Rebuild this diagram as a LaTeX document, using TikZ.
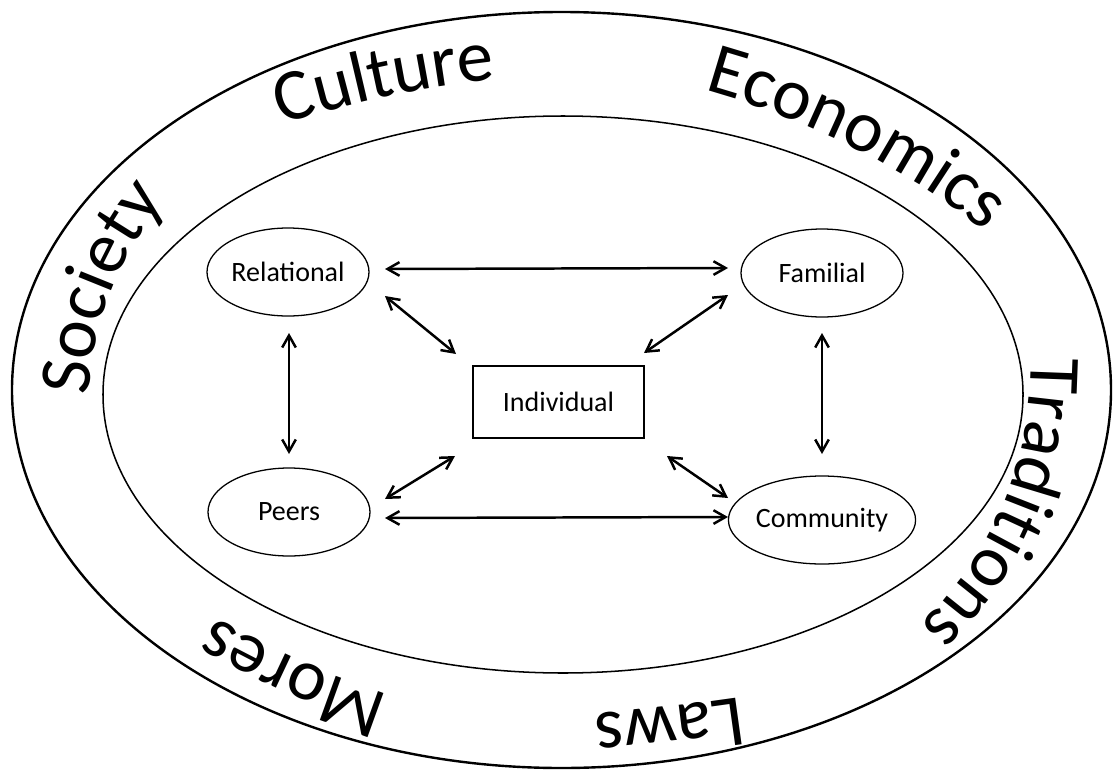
\documentclass[tikz,border=0pt]{standalone}
\usepackage{fontspec}
\setmainfont{Carlito}
\usetikzlibrary{arrows.meta,decorations.text,shapes.geometric}
\newcommand\ringfont{\fontsize{18.3}{20}\selectfont}
\begin{document}
\begin{tikzpicture}[x=0.25pt,y=-0.25pt,
  lvl/.style={ellipse,draw,line width=0.32pt,minimum width=40.5pt,minimum height=22pt,inner sep=0pt,font=\fontsize{7}{8}\selectfont},
  indiv/.style={rectangle,draw,line width=0.35pt,minimum width=42.75pt,minimum height=18pt,inner sep=0pt,font=\fontsize{7}{8}\selectfont},
  link/.style={line width=0.62pt,{Straight Barb[length=3pt,width=3.4pt]}-{Straight Barb[length=3pt,width=3.4pt]}},
  ring/.style={decorate,decoration={text along path,text={|\ringfont|#1}}}
]
\useasboundingbox (0,0) rectangle (1113,771);
% rings
\draw[line width=0.6pt] (561.5,390) ellipse[x radius=549.5,y radius=378];
\draw[line width=0.38pt] (563,394.5) ellipse[x radius=460,y radius=278.5];
% ring labels
\path[ring=Culture] (282,125) .. controls (365.3,98) and (451.3,81.7) .. (540,76);
\path[ring=Economics] (704,90) .. controls (823.3,123.3) and (929.3,180.7) .. (1022,262);
\path[ring=Society] (89,396) .. controls (93.7,312) and (125.7,239.3) .. (185,178);
\path[ring=Traditions] (1031,357) .. controls (1031.3,473.7) and (986,570.7) .. (895,648);
\path[ring=Mores] (390,695) .. controls (317.3,671.5) and (248.9,639.8) .. (185,598);
\path[ring=Laws] (740,697) .. controls (680.4,705.7) and (620.4,712.1) .. (560,716);
% nodes
\node[lvl] (rel) at (288,272) {Relational};
\node[lvl] (fam) at (822,273) {Familial};
\node[lvl] (peer) at (289,512) {Peers};
\node[lvl] (com) at (822,520) {Community};
\node[indiv] (ind) at (558.5,402) {Individual};
% links
\draw[link] ([shift={(97,-3)}]rel.center) -- ([shift={(-94,-5)}]fam.center);
\draw[link] ([shift={(96,6)}]peer.center) -- ([shift={(-94,-3)}]com.center);
\draw[link] ([shift={(97,24)}]rel.center) -- ([shift={(-102.5,-48)}]ind.center);
\draw[link] ([shift={(-94,22)}]fam.center) -- ([shift={(85.5,-49)}]ind.center);
\draw[link] ([shift={(96,-13)}]peer.center) -- ([shift={(-103.5,54)}]ind.center);
\draw[link] ([shift={(-94,-22)}]com.center) -- ([shift={(108.5,54)}]ind.center);
\draw[link] ([shift={(1,61)}]rel.center) -- ([shift={(0,-58)}]peer.center);
\draw[link] ([shift={(0,60)}]fam.center) -- ([shift={(0,-66)}]com.center);
\end{tikzpicture}
\end{document}
